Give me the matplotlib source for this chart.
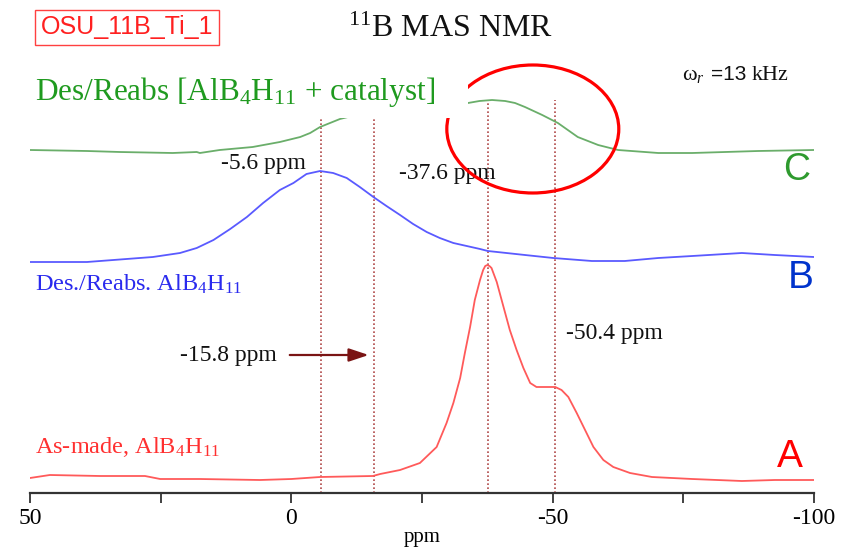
"""11B MAS NMR spectra of AlB4H11: as-made, desorbed/reabsorbed, with catalyst."""

import matplotlib

matplotlib.use("Agg")
import matplotlib.pyplot as plt
from matplotlib.patches import Ellipse, Rectangle

plt.rcParams["mathtext.fontset"] = "custom"
plt.rcParams["mathtext.rm"] = "Liberation Serif"
plt.rcParams["mathtext.it"] = "Liberation Serif:italic"

SERIF = "Liberation Serif"
SANS = "Liberation Sans"

# trace A: as-made AlB4H11 (ppm, intensity)
ppm_a = [50, 46.2, 36.6, 28.0, 25.1, 17.5, 6.0, 0.0, -5.5, -15.6, -17.0, -20.8, -24.6,
         -27.8, -29.7, -31.0, -32.3, -33.2, -34.2, -35.1, -36.1, -36.7, -37.1, -37.5,
         -37.9, -38.3, -39.3, -40.6, -41.8, -43.1, -44.4, -45.7, -46.9, -48.9, -50.5,
         -51.7, -53.0, -54.6, -56.2, -57.8, -59.7, -61.6, -64.8, -69.0, -76.7, -86.2,
         -92.5, -100]
int_a = [15, 18, 17, 17, 14, 14, 13, 14, 16, 17, 19, 23, 30,
         46, 70, 90, 115, 140, 166, 193, 213, 223, 227, 228,
         227, 225, 211, 186, 163, 143, 125, 110, 106, 106, 106,
         103, 96, 80, 63, 46, 33, 26, 20, 16, 14, 12,
         13, 13]

# trace B: desorbed/reabsorbed AlB4H11
ppm_b = [50, 39.1, 26.5, 21.3, 18.1, 14.9, 11.7, 8.5, 5.4, 2.2, -0.4, -2.9, -5.5,
         -8.0, -10.6, -13.1, -15.7, -18.2, -20.8, -23.3, -25.9, -28.4, -31.0, -36.1,
         -37.6, -44.7, -50.1, -57.5, -63.8, -70.2, -76.7, -86.2, -92.5, -100]
int_b = [231, 231, 236, 240, 245, 253, 264, 276, 290, 303, 310, 319, 322,
         320, 315, 306, 296, 287, 278, 269, 261, 255, 250, 244,
         242, 238, 235, 232, 232, 235, 237, 240, 238, 236]

# trace C: desorbed/reabsorbed AlB4H11 + catalyst
ppm_c = [50, 39.1, 32.8, 22.7, 18.1, 17.5, 13.7, 7.4, 2.2, -1.7, -3.6, -5.5, -9.3,
         -17.0, -24.6, -30.4, -33.8, -36.0, -38.4, -40.9, -42.8, -44.7, -48.0, -51.0,
         -54.8, -58.7, -62.5, -70.2, -76.7, -83.0, -89.3, -100]
int_c = [343, 342, 341, 340, 341, 340, 343, 346, 351, 356, 360, 366, 374,
         384, 389, 391, 390, 392, 393, 392, 390, 386, 378, 370,
         356, 348, 343, 340, 340, 341, 342, 343]

# marked shifts and the top of their guide lines
peak_ppm = [-5.6, -15.8, -37.6, -50.4]
peak_top = [375, 375, 393, 393]

fig = plt.figure(figsize=(8.5, 5.52), dpi=100)
ax = fig.add_axes([30 / 850, 59 / 552, 784 / 850, 493 / 552])
ax.set_xlim(50, -100)
ax.set_ylim(0, 493)

line_kw = dict(lw=1.3, zorder=3, solid_joinstyle="round")
ax.plot(ppm_a, int_a, color="#ff5a5a", **line_kw)
ax.plot(ppm_b, int_b, color="#5a5aff", **line_kw)
ax.plot(ppm_c, int_c, color="#6aae6a", **line_kw)

for x, top in zip(peak_ppm, peak_top):
    ax.plot([x, x], [0, top], color="#b04848", lw=1.2, ls=(0, (1, 1.4)), zorder=2)

ax.add_patch(Ellipse((-46.2, 364), 32.9, 128, fill=False, ec="#ff0000", lw=2.3, zorder=4))
# white label area that hides part of trace C and the ellipse
ax.add_patch(Rectangle((-9.3, 375), -24.5, 50, fc="white", ec="none", zorder=5))

# labels
ax.text(31.4, 466, "OSU_11B_Ti_1", family=SANS, fontsize=18, color="#ff2020",
        ha="center", va="center",
        bbox=dict(boxstyle="square,pad=0.22", fc="white", ec="#ff4040", lw=1.0))
ax.text(-30.5, 464, r"$^{11}$B MAS NMR", family=SERIF, fontsize=23, color="#111111",
        ha="center", va="center")
ax.text(49.0, 393, r"Des/Reabs [AlB$_4$H$_{11}$ + catalyst]", family=SERIF, fontsize=22.5,
        color="#1f9a1f", ha="left", va="baseline", zorder=6,
        bbox=dict(boxstyle="square,pad=0.15", fc="white", ec="none"))
ax.text(-74.7, 413, r"ω$_{r}$", family=SERIF, fontsize=16, color="#111111",
        ha="left", va="baseline")
ax.text(-80.2, 413, "=13", family=SANS, fontsize=15, color="#111111",
        ha="left", va="baseline")
ax.text(-88.0, 413, "kHz", family=SERIF, fontsize=16, color="#111111",
        ha="left", va="baseline")

ax.text(-96.6, 323, "C", family=SANS, fontsize=27, color="#2e9a2e", ha="center", va="center")
ax.text(-97.5, 215, "B", family=SANS, fontsize=28, color="#0033cc", ha="center", va="center")
ax.text(-95.4, 36, "A", family=SANS, fontsize=28, color="#ff0000", ha="center", va="center")

ax.text(49.0, 202, r"Des./Reabs. AlB$_4$H$_{11}$", family=SERIF, fontsize=17.5,
        color="#2a2aee", ha="left", va="baseline")
ax.text(49.0, 40, r"As-made, AlB$_4$H$_{11}$", family=SERIF, fontsize=17.5,
        color="#ff3030", ha="left", va="baseline")

ann_kw = dict(family=SERIF, fontsize=17, color="#111111", ha="center", va="center")
ax.text(5.4, 329, "-5.6 ppm", **ann_kw)
ax.text(-29.8, 319, "-37.6 ppm", **ann_kw)
ax.text(12.1, 138, "-15.8 ppm", **ann_kw)
ax.text(-61.9, 160, "-50.4 ppm", **ann_kw)
ax.annotate("", xy=(-14.8, 138), xytext=(0.3, 138),
            arrowprops=dict(arrowstyle="-|>,head_length=1.2,head_width=0.4",
                            color="#7a1414", lw=1.6, shrinkA=0, shrinkB=0))

# axis
for side in ("left", "right", "top"):
    ax.spines[side].set_visible(False)
ax.spines["bottom"].set_color("#333333")
ax.spines["bottom"].set_linewidth(1.6)
ax.set_yticks([])
ax.set_xticks([50, 0, -50, -100])
ax.set_xticklabels(["50", "0", "-50", "-100"], family=SERIF, fontsize=17)
ax.set_xticks([25, -25, -75], minor=True)
ax.tick_params(axis="x", which="both", direction="out", length=7, width=1.3,
               color="#333333", pad=4)
ax.set_xlabel("ppm", family=SERIF, fontsize=15, labelpad=-1)
ax.patch.set_alpha(0)

fig.savefig("out.png", dpi=100)
